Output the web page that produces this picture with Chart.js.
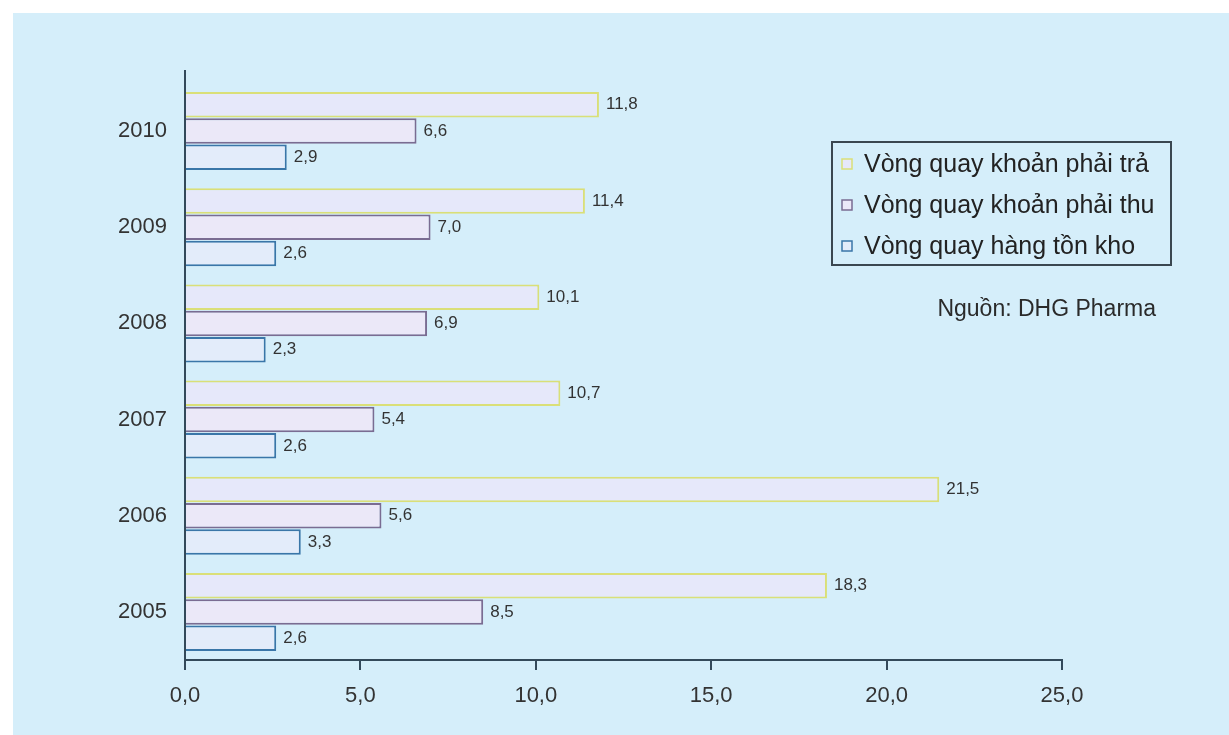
<!DOCTYPE html>
<html>
<head>
<meta charset="utf-8">
<script src="https://cdn.jsdelivr.net/npm/chart.js@4/dist/chart.umd.min.js"></script>
<style>
  html, body { margin: 0; padding: 0; background: #ffffff; }
  #wrap { position: absolute; left: 0; top: 0; width: 1229px; height: 735px; }
</style>
</head>
<body>
<div id="wrap"><canvas id="chart"></canvas></div>
<script>
  // data (years bottom -> top)
  const years = ['2005', '2006', '2007', '2008', '2009', '2010'];
  const payable = [18.3, 21.5, 10.7, 10.1, 11.4, 11.8];     // Vòng quay khoản phải trả
  const receivable = [8.5, 5.6, 5.4, 6.9, 7.0, 6.6];        // Vòng quay khoản phải thu
  const inventory = [2.6, 3.3, 2.6, 2.3, 2.6, 2.9];         // Vòng quay hàng tồn kho
  const seriesNames = ['Vòng quay khoản phải trả', 'Vòng quay khoản phải thu', 'Vòng quay hàng tồn kho'];
  const xTicks = [0, 5, 10, 15, 20, 25];
  const sourceNote = 'Nguồn: DHG Pharma';

  const FONT = "'Liberation Sans', Arial, sans-serif";
  const AXIS = '#33495a';
  const borders = ['#dadf78', '#7a6c92', '#3a76a8'];
  const fills = ['#e6e8fa', '#ebe8f8', '#e3ecfa'];

  //comma as decimal mark, like the original
  const fmt = function (v) { return Number(v).toFixed(1).replace('.', ','); };

  const panelPlugin = {
    id: 'panel',
    beforeDraw(chart) {
      const ctx = chart.ctx;
      ctx.save();
      ctx.fillStyle = '#ffffff';
      ctx.fillRect(0, 0, chart.width, chart.height);
      ctx.fillStyle = '#d5eefa';
      ctx.fillRect(13, 13, chart.width - 13, chart.height - 13);
      ctx.restore();
    },
    afterDraw(chart) {
      // y axis sticks out a bit above the top category
      const ctx = chart.ctx, a = chart.chartArea;
      ctx.save();
      ctx.strokeStyle = AXIS;
      ctx.lineWidth = 2;
      ctx.beginPath();
      ctx.moveTo(a.left, 70);
      ctx.lineTo(a.left, a.top + 1);
      ctx.stroke();
      ctx.restore();
    }
  };

  const valueLabels = {
    id: 'valueLabels',
    afterDatasetsDraw(chart) {
      const ctx = chart.ctx;
      ctx.save();
      ctx.font = '17px ' + FONT;
      ctx.fillStyle = '#333333';
      ctx.textBaseline = 'middle';
      ctx.textAlign = 'left';
      chart.data.datasets.forEach(function (ds, i) {
        chart.getDatasetMeta(i).data.forEach(function (bar, j) {
          ctx.fillText(fmt(ds.data[j]), bar.x + 7, bar.y);
        });
      });
      ctx.restore();
    }
  };

  const boxLegend = {
    id: 'boxLegend',
    afterDraw(chart) {
      const ctx = chart.ctx;
      ctx.save();
      ctx.strokeStyle = '#3a4750';
      ctx.lineWidth = 2;
      ctx.strokeRect(832, 142, 339, 123);
      const rows = [164, 205, 246];
      ctx.font = '25px ' + FONT;
      ctx.textBaseline = 'middle';
      ctx.textAlign = 'left';
      chart.data.datasets.forEach(function (ds, i) {
        ctx.fillStyle = fills[i];
        ctx.fillRect(842, rows[i] - 5, 10, 10);
        ctx.strokeStyle = ds.borderColor;
        ctx.lineWidth = 1.5;
        ctx.strokeRect(842, rows[i] - 5, 10, 10);
        ctx.fillStyle = '#222222';
        ctx.fillText(ds.label, 864, rows[i] + 1);
      });
      ctx.font = '23px ' + FONT;
      ctx.textAlign = 'right';
      ctx.fillStyle = '#2a2a2a';
      ctx.fillText(sourceNote, 1156, 310);
      ctx.restore();
    }
  };

  const mkSet = function (i, data) {
    return {
      label: seriesNames[i],
      data: data,
      backgroundColor: fills[i],
      borderColor: borders[i],
      borderWidth: 2,
      categoryPercentage: 0.82,
      barPercentage: 0.97
    };
  };

  new Chart(document.getElementById('chart'), {
    type: 'bar',
    data: {
      labels: years,
      datasets: [mkSet(0, payable), mkSet(1, receivable), mkSet(2, inventory)]
    },
    options: {
      indexAxis: 'y',
      responsive: true,
      maintainAspectRatio: false,
      animation: false,
      layout: { padding: { top: 83, right: 167, bottom: 0, left: 0 } },
      scales: {
        x: {
          min: 0,
          max: 25,
          afterFit: function (s) { s.height = 75; },
          afterBuildTicks: function (s) { s.ticks = xTicks.map(function (v) { return { value: v }; }); },
          border: { display: true, color: AXIS, width: 2 },
          grid: { drawOnChartArea: false, drawTicks: true, tickLength: 10, color: AXIS, lineWidth: 2 },
          ticks: {
            padding: 13,
            color: '#333333',
            font: { family: FONT, size: 22 },
            callback: function (v) { return fmt(v); }
          }
        },
        y: {
          reverse: true,
          afterFit: function (s) { s.width = 185; },
          border: { display: true, color: AXIS, width: 2 },
          grid: { display: false },
          ticks: {
            padding: 10,
            color: '#333333',
            font: { family: FONT, size: 22 }
          }
        }
      },
      plugins: {
        legend: { display: false },
        tooltip: { enabled: false }
      }
    },
    plugins: [panelPlugin, valueLabels, boxLegend]
  });
</script>
</body>
</html>
